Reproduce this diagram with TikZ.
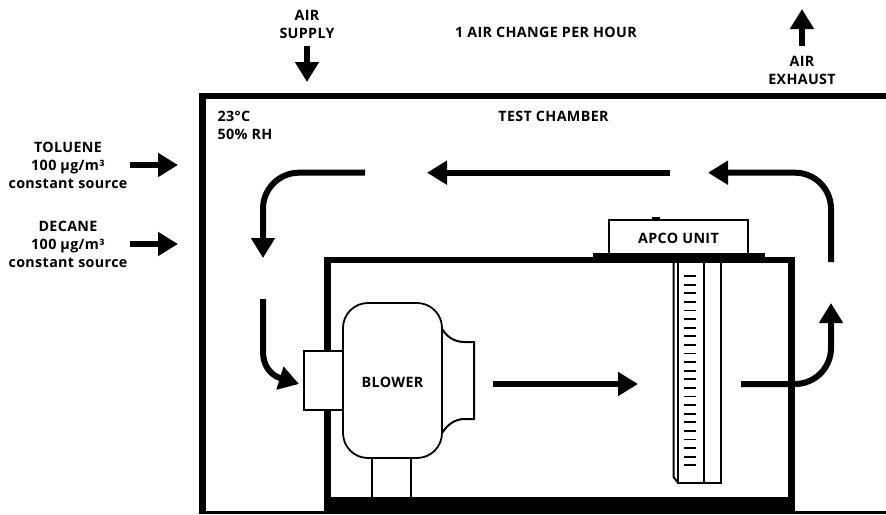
\documentclass[tikz,border=0pt]{standalone}
\usepackage{fontspec}
\setmainfont{Open Sans}[LetterSpace=2.5]
\usetikzlibrary{arrows.meta, positioning}
\tikzset{
    label/.style={align=center, inner sep=0pt, font=\fontsize{14.3}{18}\selectfont\bfseries},
    device/.style={rectangle, draw=black, fill=white, line width=1.8pt, inner sep=0pt, text height=13.5pt, font=\fontsize{14.3}{18}\selectfont\bfseries},
    wall/.style={draw=black, line width=6.5pt},
    thinline/.style={draw=black, line width=2pt},
    flow/.style={draw=black, line width=6pt, -{Triangle[length=20pt, width=23pt]}}
}
\begin{document}
\begin{tikzpicture}[x=1pt, y=-1pt]
    \useasboundingbox (0,0) rectangle (886,514);

    % Chamber walls
    \draw [wall] (886,96) -- (202.5,96) -- (202.5,514);
    \fill (199,510.5) rectangle (886,514);

    % Inner cabinet
    \draw [wall] (327.5,500) -- (327.5,260) -- (791.5,260) -- (791.5,500);
    \fill (324,497) rectangle (795,514);

    % APCO unit
    \fill (652,217) rectangle (660,221);
    \node [device] (apco) at (678.5,237) [minimum width=139pt, minimum height=34pt] {APCO UNIT};
    \fill (593,253) rectangle (765,258);

    % Column below the unit
    \draw [thinline] (673.5,263) -- (673.5,477) -- (677.5,482);
    \draw [thinline] (677.5,263) -- (677.5,482.5) -- (720.5,482.5) -- (720.5,263);
    \draw [thinline] (703.5,263) -- (703.5,482.5);
    \foreach \y in {0,...,22} {
        \draw [line width=1.8pt] (684,276+8.6*\y) -- (696,276+8.6*\y);
    }

    % Blower
    \draw [thinline] (371.5,458) -- (371.5,497);
    \draw [thinline] (410.5,458) -- (410.5,497);
    \draw [thinline, fill=white] (442,329) .. controls (448,338) and (455,342) .. (465,342) -- (474,342) -- (474,419) -- (465,419) .. controls (455,419) and (448,424) .. (442,433);
    \node [device, minimum width=39pt, minimum height=59pt] (inlet) at (323.5,380.5) {};
    \node [device, rounded corners=25pt, minimum width=99pt, minimum height=155pt] (blower) at (392.5,380.5) {BLOWER};

    % Labels
    \node [label] (supply) at (307,24) {AIR\\SUPPLY};
    \node [label] (rate) at (546,32) {1 AIR CHANGE PER HOUR};
    \node [label] (exhaust) at (802,70.5) {AIR\\EXHAUST};
    \node [label] (chamber) at (553.5,116) {TEST CHAMBER};
    \node [label, align=left, anchor=west] (climate) at (217.5,125) {23°C\\50\% RH};
    \node [label] (toluene) at (68,165) {TOLUENE\\100 µg/m³\\constant source};
    \node [label] (decane) at (68,244) {DECANE\\100 µg/m³\\constant source};

    % Free ends of the arrows
    \coordinate (supplytail) at (307,46);
    \coordinate (supplytip) at (307,82);
    \coordinate (exhausttail) at (802,46);
    \coordinate (exhausttip) at (802,9);
    \coordinate (toluenetail) at (130,165);
    \coordinate (toluenetip) at (178,165);
    \coordinate (decanetail) at (130,244);
    \coordinate (decanetip) at (178,244);
    \coordinate (risetail) at (831,262);
    \coordinate (risetip) at (708,172.7);
    \coordinate (toptail) at (670,172.7);
    \coordinate (toptip) at (427,172.7);
    \coordinate (falltail) at (365,172.7);
    \coordinate (falltip) at (263,258);
    \coordinate (intaketail) at (263,299);
    \coordinate (intaketip) at (299,384);
    \coordinate (outlettail) at (493,384);
    \coordinate (outlettip) at (638,384);
    \coordinate (returntail) at (741,384);
    \coordinate (returntip) at (831,303);

    % Connections
    \draw [flow] (supplytail) -- (supplytip);
    \draw [flow] (exhausttail) -- (exhausttip);
    \draw [flow] (toluenetail) -- (toluenetip);
    \draw [flow] (decanetail) -- (decanetip);
    \draw [flow, rounded corners=36pt] (risetail) |- (risetip);
    \draw [flow] (toptail) -- (toptip);
    \draw [flow, rounded corners=36pt] (falltail) -| (falltip);
    \draw [flow] (intaketail) -- (263,352) .. controls (263,365) and (270,375) .. (intaketip);
    \draw [flow] (outlettail) -- (outlettip);
    \draw [flow, rounded corners=36pt] (returntail) -| (returntip);

\end{tikzpicture}
\end{document}
